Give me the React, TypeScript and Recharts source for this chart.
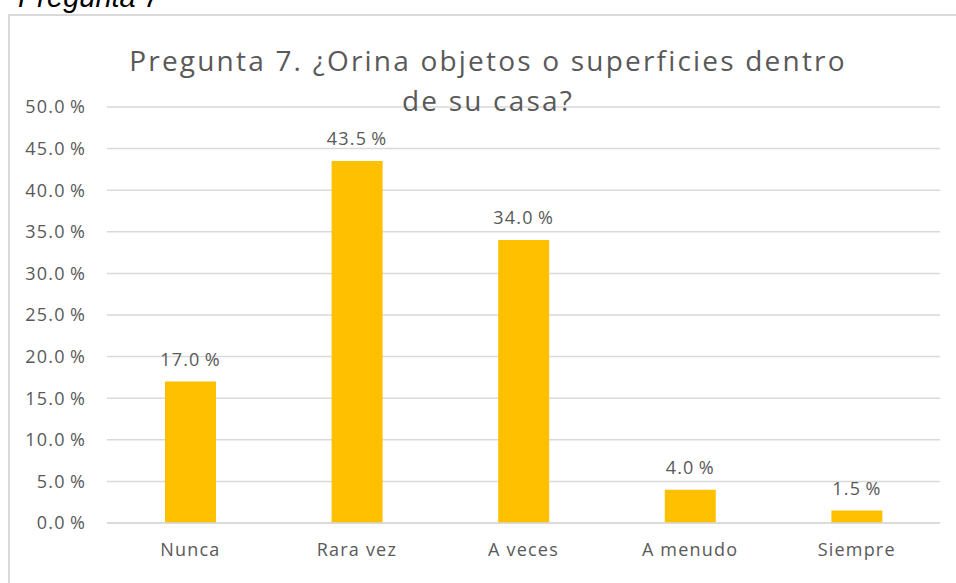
import { BarChart, Bar, XAxis, YAxis, CartesianGrid, LabelList } from 'recharts';

const categories = ['Nunca', 'Rara vez', 'A veces', 'A menudo', 'Siempre'];
const percentages = [17.0, 43.5, 34.0, 4.0, 1.5];
const yTicks = [0, 5, 10, 15, 20, 25, 30, 35, 40, 45, 50];

const data = categories.map((name, i) => ({ name, value: percentages[i] }));

const textGray = '#595959';
const gridGray = '#d9d9d9';
const font = '"Open Sans", Lato, sans-serif';

const fmt = (v: number) => `${v.toFixed(1)}\u2009%`;

// shared look for axis and value labels
const labelStyle = { fill: textGray, fontSize: 18, fontFamily: font, letterSpacing: 1.2 };

export default function App() {
  return (
    <div style={{ position: 'fixed', left: 0, top: 0, width: 956, height: 583, background: '#fff', overflow: 'hidden' }}>
      {/* caption above the figure, mostly cut off */}
      <div
        style={{
          position: 'absolute',
          left: 18,
          top: -17,
          fontFamily: '"Liberation Sans", Arial, sans-serif',
          fontStyle: 'italic',
          fontSize: 29,
          lineHeight: 1,
          color: '#000',
        }}
      >
        Pregunta 7
      </div>

      {/* chart frame */}
      <div
        style={{
          position: 'absolute',
          left: 8,
          top: 14,
          width: 960,
          height: 580,
          border: `2px solid ${gridGray}`,
          boxSizing: 'border-box',
        }}
      />

      <div style={{ position: 'absolute', left: 0, top: 0 }}>
        <BarChart width={956} height={583} data={data} margin={{ top: 107, right: 16, bottom: 0, left: 0 }}>
          <CartesianGrid vertical={false} stroke={gridGray} strokeWidth={1.5} />
          <XAxis
            dataKey="name"
            height={60}
            tickLine={false}
            tickSize={0}
            tickMargin={20}
            axisLine={{ stroke: gridGray, strokeWidth: 1.5 }}
            tick={labelStyle}
          />
          <YAxis
            width={107}
            domain={[0, 50]}
            ticks={yTicks}
            interval={0}
            axisLine={false}
            tickLine={false}
            tickSize={0}
            tickMargin={21}
            tickFormatter={fmt}
            tick={labelStyle}
          />
          <Bar dataKey="value" fill="#FFC000" barSize={51} isAnimationActive={false}>
            <LabelList
              dataKey="value"
              position="top"
              offset={16}
              formatter={(v: any) => fmt(Number(v))}
              style={labelStyle}
            />
          </Bar>
        </BarChart>
      </div>

      {/* title drawn over the plot, as in the original */}
      <div
        style={{
          position: 'absolute',
          left: 0,
          top: 40,
          width: 976,
          textAlign: 'center',
          fontFamily: font,
          fontSize: 28,
          letterSpacing: 2.2,
          lineHeight: '40px',
          color: textGray,
          whiteSpace: 'nowrap',
        }}
      >
        Pregunta 7. ¿Orina objetos o superficies dentro
        <br />
        de su casa?
      </div>
    </div>
  );
}
